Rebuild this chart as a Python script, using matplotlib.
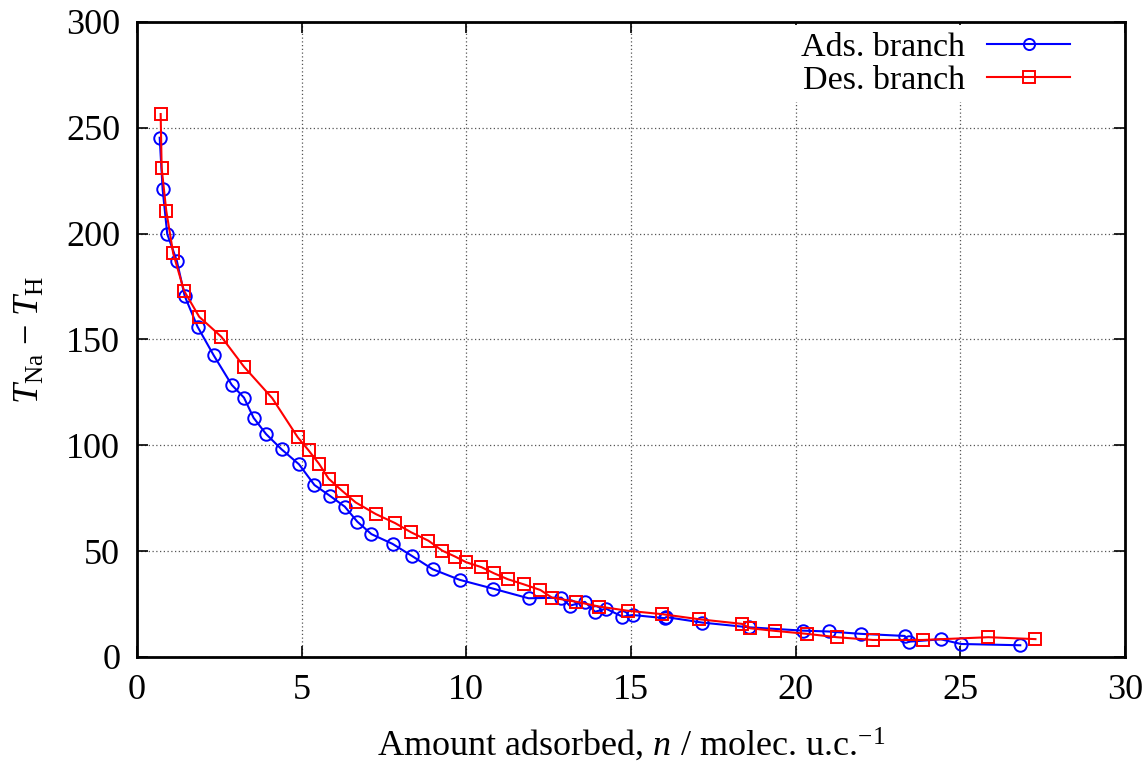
import matplotlib
matplotlib.use("Agg")
import matplotlib.pyplot as plt

# -----------------------------
# Data: adsorption / desorption branches
# -----------------------------
ads_n = [0.69, 0.78, 0.92, 1.21, 1.45, 1.84, 2.33, 2.88, 3.25, 3.54,
         3.92, 4.39, 4.92, 5.39, 5.86, 6.31, 6.69, 7.12, 7.76, 8.35,
         8.98, 9.80, 10.80, 11.89, 12.89, 13.14, 13.60, 13.91, 14.24, 14.74,
         15.05, 16.02, 16.07, 17.17, 18.57, 20.22, 21.00, 21.97, 23.31, 23.44,
         24.41, 25.02, 26.82]
ads_dT = [245.3, 220.9, 199.8, 187.2, 170.5, 156.0, 142.5, 128.5, 122.5, 113.0,
          105.3, 98.1, 91.0, 81.2, 76.1, 71.0, 63.9, 58.0, 53.4, 47.7,
          41.4, 36.4, 32.3, 27.7, 28.0, 24.2, 26.0, 21.3, 22.8, 19.0,
          19.8, 18.3, 18.8, 16.2, 14.0, 12.4, 12.0, 10.9, 9.9, 7.2,
          8.3, 6.1, 5.5]

des_n = [0.72, 0.75, 0.89, 1.10, 1.43, 1.89, 2.56, 3.25, 4.11, 4.88,
         5.21, 5.53, 5.82, 6.22, 6.64, 7.25, 7.84, 8.32, 8.85, 9.27,
         9.66, 10.00, 10.46, 10.84, 11.26, 11.74, 12.25, 12.60, 13.32, 14.03,
         14.90, 15.94, 17.06, 18.37, 18.62, 19.37, 20.33, 21.25, 22.34, 23.86,
         25.85, 27.28]
des_dT = [256.5, 231.0, 210.8, 190.7, 173.0, 160.7, 151.3, 137.1, 122.2, 103.8,
          97.6, 91.2, 84.2, 78.6, 73.0, 67.5, 63.2, 58.9, 54.9, 50.2,
          47.4, 44.7, 42.4, 39.5, 36.7, 34.3, 31.6, 28.0, 26.1, 23.8,
          21.8, 20.2, 17.8, 15.6, 13.5, 12.3, 10.9, 9.3, 8.0, 8.0,
          9.3, 8.4]

x_ticks = [0, 5, 10, 15, 20, 25, 30]
y_ticks = [0, 50, 100, 150, 200, 250, 300]

# -----------------------------
# Style
# -----------------------------
plt.rcParams["font.family"] = "Liberation Serif"
plt.rcParams["mathtext.fontset"] = "custom"
plt.rcParams["mathtext.rm"] = "Liberation Serif"
plt.rcParams["mathtext.it"] = "Liberation Serif:italic"
plt.rcParams["mathtext.default"] = "it"

FS = 26

fig = plt.figure(figsize=(11.46, 7.71), dpi=100)
ax = fig.add_axes([0.1195, 0.148, 0.8622, 0.8235])

ax.plot(ads_n, ads_dT, color="#0000ff", lw=1.5, marker="o", ms=9,
        mfc="none", mec="#0000ff", mew=1.4, label="Ads. branch", zorder=3)
ax.plot(des_n, des_dT, color="#ff0000", lw=1.5, marker="s", ms=9,
        mfc="none", mec="#ff0000", mew=1.4, label="Des. branch", zorder=3)

ax.set_xlim(0, 30)
ax.set_ylim(0, 300)
ax.set_xticks(x_ticks)
ax.set_yticks(y_ticks)

ax.grid(True, color="#555555", linestyle=(0, (1, 2)), linewidth=0.9)
ax.set_axisbelow(True)

ax.tick_params(direction="in", length=8, width=1.2, labelsize=FS,
               top=True, right=True, pad=12)
for sp in ax.spines.values():
    sp.set_linewidth(2.0)

ax.set_xlabel("Amount adsorbed, $n$ / molec. u.c.$^{\\mathrm{\u22121}}$",
              fontsize=FS, labelpad=14)
ax.set_ylabel("$T_{\\mathrm{Na}}$ \u2212 $T_{\\mathrm{H}}$", fontsize=FS, labelpad=14)

leg = ax.legend(loc="upper right", bbox_to_anchor=(0.955, 1.0), fontsize=24.5,
                markerfirst=False, frameon=True, fancybox=False,
                edgecolor="none", facecolor="white", framealpha=1.0,
                numpoints=1, handlelength=2.45, handletextpad=0.65,
                labelspacing=0.05, borderpad=0.2, borderaxespad=0.1)
for h in leg.legend_handles:
    h.set_markersize(8)

fig.savefig("out.png", dpi=100)
